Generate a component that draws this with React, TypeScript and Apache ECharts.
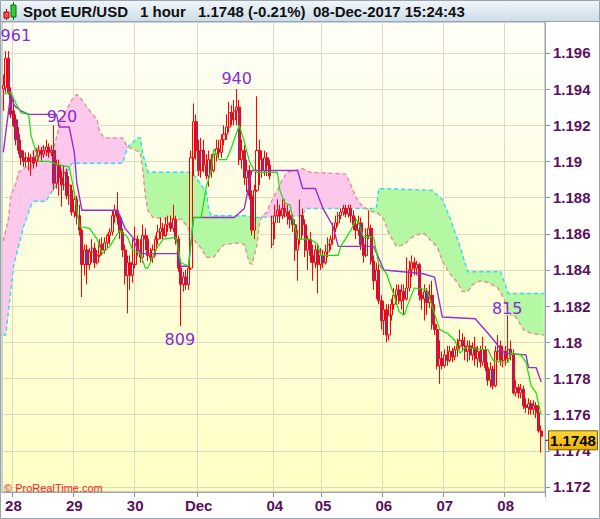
import React, { useEffect, useRef } from 'react';
import * as echarts from 'echarts';

// ---------- data ----------
const CATEGORY_COUNT = 214;
const dayLabels = ['28', '29', '30', 'Dec', '04', '05', '06', '07', '08'];
const dayStartIdx = [4, 28, 52, 77, 107, 126, 150, 174, 198];
const priceTicks = [1.172, 1.174, 1.176, 1.178, 1.18, 1.182, 1.184, 1.186, 1.188, 1.19, 1.192, 1.194, 1.196];
const priceMin = 1.17172;
const priceMax = 1.19771;

// hourly candles: [open, close, low, high]
const candles: number[][] = [
  [1.1940, 1.1942, 1.1928, 1.1948], [1.1941, 1.1957, 1.1938, 1.1961], [1.1957, 1.1938, 1.1937, 1.1961], [1.1938, 1.1926, 1.1924, 1.1941],
  [1.1928, 1.1920, 1.1919, 1.1934], [1.1923, 1.1912, 1.1909, 1.1926], [1.1915, 1.1906, 1.1904, 1.1919], [1.1906, 1.1902, 1.1898, 1.1912],
  [1.1902, 1.1900, 1.1897, 1.1906], [1.1900, 1.1902, 1.1897, 1.1905], [1.1902, 1.1900, 1.1895, 1.1905], [1.1900, 1.1902, 1.1892, 1.1904],
  [1.1902, 1.1899, 1.1896, 1.1906], [1.1900, 1.1903, 1.1897, 1.1907], [1.1903, 1.1906, 1.1901, 1.1909], [1.1906, 1.1904, 1.1900, 1.1908],
  [1.1904, 1.1906, 1.1902, 1.1909], [1.1906, 1.1908, 1.1903, 1.1912], [1.1908, 1.1905, 1.1902, 1.1910], [1.1905, 1.1906, 1.1903, 1.1909],
  [1.1906, 1.1888, 1.1884, 1.1920], [1.1888, 1.1898, 1.1885, 1.1901], [1.1898, 1.1891, 1.1881, 1.1901], [1.1891, 1.1887, 1.1875, 1.1895],
  [1.1887, 1.1894, 1.1884, 1.1898], [1.1894, 1.1881, 1.1879, 1.1896], [1.1881, 1.1887, 1.1876, 1.1892], [1.1884, 1.1872, 1.1870, 1.1887],
  [1.1872, 1.1879, 1.1869, 1.1881], [1.1879, 1.1870, 1.1865, 1.1881], [1.1870, 1.1862, 1.1859, 1.1876], [1.1862, 1.1843, 1.1825, 1.1863],
  [1.1843, 1.1851, 1.1837, 1.1854], [1.1851, 1.1843, 1.1832, 1.1854], [1.1843, 1.1850, 1.1840, 1.1852], [1.1850, 1.1852, 1.1844, 1.1857],
  [1.1852, 1.1844, 1.1841, 1.1855], [1.1844, 1.1848, 1.1843, 1.1851], [1.1848, 1.1854, 1.1847, 1.1857], [1.1854, 1.1851, 1.1848, 1.1858],
  [1.1851, 1.1855, 1.1849, 1.1858], [1.1855, 1.1859, 1.1852, 1.1860], [1.1859, 1.1861, 1.1854, 1.1863], [1.1861, 1.1870, 1.1859, 1.1873],
  [1.1870, 1.1873, 1.1866, 1.1876], [1.1873, 1.1869, 1.1865, 1.1883], [1.1869, 1.1861, 1.1857, 1.1870], [1.1861, 1.1851, 1.1847, 1.1863],
  [1.1851, 1.1837, 1.1832, 1.1854], [1.1837, 1.1844, 1.1816, 1.1848], [1.1844, 1.1837, 1.1829, 1.1848], [1.1837, 1.1843, 1.1833, 1.1857],
  [1.1843, 1.1857, 1.1841, 1.1864], [1.1857, 1.1851, 1.1848, 1.1859], [1.1851, 1.1847, 1.1844, 1.1857], [1.1847, 1.1859, 1.1844, 1.1865],
  [1.1859, 1.1857, 1.1851, 1.1863], [1.1857, 1.1848, 1.1845, 1.1859], [1.1848, 1.1847, 1.1844, 1.1852], [1.1847, 1.1851, 1.1844, 1.1854],
  [1.1851, 1.1857, 1.1848, 1.1859], [1.1857, 1.1861, 1.1854, 1.1865], [1.1861, 1.1863, 1.1857, 1.1869], [1.1863, 1.1859, 1.1857, 1.1866],
  [1.1859, 1.1865, 1.1858, 1.1869], [1.1865, 1.1866, 1.1861, 1.1870], [1.1866, 1.1863, 1.1861, 1.1870], [1.1863, 1.1868, 1.1861, 1.1876],
  [1.1868, 1.1857, 1.1854, 1.1870], [1.1857, 1.1841, 1.1839, 1.1859], [1.1841, 1.1832, 1.1809, 1.1844], [1.1832, 1.1836, 1.1828, 1.1839],
  [1.1836, 1.1832, 1.1829, 1.1840], [1.1832, 1.1841, 1.1829, 1.1844], [1.1841, 1.1902, 1.1840, 1.1906], [1.1902, 1.1922, 1.1892, 1.1932],
  [1.1922, 1.1906, 1.1901, 1.1926], [1.1906, 1.1895, 1.1892, 1.1912], [1.1895, 1.1906, 1.1891, 1.1913], [1.1906, 1.1898, 1.1894, 1.1912],
  [1.1898, 1.1892, 1.1890, 1.1904], [1.1892, 1.1901, 1.1886, 1.1906], [1.1901, 1.1895, 1.1891, 1.1904], [1.1895, 1.1904, 1.1894, 1.1906],
  [1.1904, 1.1907, 1.1900, 1.1912], [1.1907, 1.1905, 1.1902, 1.1912], [1.1905, 1.1912, 1.1902, 1.1915], [1.1912, 1.1915, 1.1909, 1.1920],
  [1.1915, 1.1919, 1.1912, 1.1926], [1.1919, 1.1927, 1.1916, 1.1933], [1.1927, 1.1923, 1.1920, 1.1931], [1.1923, 1.1928, 1.1920, 1.1934],
  [1.1928, 1.1930, 1.1920, 1.1940], [1.1930, 1.1901, 1.1898, 1.1934], [1.1901, 1.1906, 1.1896, 1.1912], [1.1906, 1.1891, 1.1887, 1.1909],
  [1.1891, 1.1895, 1.1883, 1.1901], [1.1895, 1.1881, 1.1879, 1.1898], [1.1881, 1.1862, 1.1859, 1.1884], [1.1862, 1.1884, 1.1857, 1.1887],
  [1.1884, 1.1906, 1.1883, 1.1936], [1.1906, 1.1901, 1.1887, 1.1912], [1.1901, 1.1895, 1.1891, 1.1906], [1.1895, 1.1902, 1.1892, 1.1906],
  [1.1902, 1.1898, 1.1892, 1.1905], [1.1898, 1.1892, 1.1890, 1.1901], [1.1854, 1.1866, 1.1852, 1.1870], [1.1866, 1.1870, 1.1857, 1.1876],
  [1.1870, 1.1873, 1.1866, 1.1879], [1.1873, 1.1870, 1.1866, 1.1876], [1.1870, 1.1874, 1.1868, 1.1879], [1.1874, 1.1872, 1.1869, 1.1879],
  [1.1872, 1.1870, 1.1865, 1.1876], [1.1870, 1.1868, 1.1863, 1.1873], [1.1868, 1.1865, 1.1861, 1.1871], [1.1865, 1.1851, 1.1845, 1.1868],
  [1.1851, 1.1857, 1.1834, 1.1862], [1.1857, 1.1870, 1.1854, 1.1879], [1.1870, 1.1865, 1.1859, 1.1874], [1.1865, 1.1851, 1.1847, 1.1868],
  [1.1851, 1.1857, 1.1840, 1.1859], [1.1857, 1.1848, 1.1844, 1.1861], [1.1848, 1.1844, 1.1834, 1.1854], [1.1844, 1.1851, 1.1841, 1.1854],
  [1.1851, 1.1843, 1.1827, 1.1854], [1.1843, 1.1848, 1.1840, 1.1852], [1.1848, 1.1844, 1.1841, 1.1851], [1.1844, 1.1850, 1.1843, 1.1854],
  [1.1850, 1.1854, 1.1847, 1.1858], [1.1854, 1.1857, 1.1851, 1.1859], [1.1857, 1.1863, 1.1854, 1.1866], [1.1863, 1.1866, 1.1861, 1.1870],
  [1.1866, 1.1870, 1.1864, 1.1872], [1.1870, 1.1872, 1.1868, 1.1874], [1.1872, 1.1874, 1.1870, 1.1876], [1.1874, 1.1871, 1.1869, 1.1876],
  [1.1871, 1.1874, 1.1869, 1.1876], [1.1874, 1.1870, 1.1866, 1.1876], [1.1870, 1.1865, 1.1862, 1.1873], [1.1865, 1.1862, 1.1857, 1.1869],
  [1.1862, 1.1866, 1.1859, 1.1870], [1.1866, 1.1854, 1.1851, 1.1869], [1.1854, 1.1848, 1.1844, 1.1858], [1.1848, 1.1859, 1.1847, 1.1863],
  [1.1859, 1.1863, 1.1857, 1.1873], [1.1863, 1.1845, 1.1843, 1.1865], [1.1845, 1.1834, 1.1829, 1.1848], [1.1834, 1.1840, 1.1824, 1.1844],
  [1.1840, 1.1823, 1.1821, 1.1843], [1.1823, 1.1812, 1.1807, 1.1826], [1.1812, 1.1818, 1.1804, 1.1823], [1.1818, 1.1804, 1.1800, 1.1821],
  [1.1804, 1.1815, 1.1801, 1.1821], [1.1815, 1.1821, 1.1812, 1.1824], [1.1821, 1.1826, 1.1818, 1.1830], [1.1826, 1.1829, 1.1821, 1.1832],
  [1.1829, 1.1823, 1.1821, 1.1832], [1.1823, 1.1828, 1.1818, 1.1832], [1.1828, 1.1824, 1.1815, 1.1832], [1.1824, 1.1830, 1.1823, 1.1847],
  [1.1830, 1.1840, 1.1828, 1.1845], [1.1840, 1.1844, 1.1836, 1.1848], [1.1844, 1.1841, 1.1837, 1.1847], [1.1841, 1.1843, 1.1837, 1.1845],
  [1.1843, 1.1826, 1.1823, 1.1844], [1.1826, 1.1824, 1.1818, 1.1830], [1.1824, 1.1828, 1.1812, 1.1832], [1.1828, 1.1822, 1.1815, 1.1830],
  [1.1822, 1.1826, 1.1819, 1.1832], [1.1826, 1.1810, 1.1807, 1.1834], [1.1810, 1.1807, 1.1804, 1.1821], [1.1807, 1.1787, 1.1785, 1.1810],
  [1.1787, 1.1791, 1.1777, 1.1801], [1.1791, 1.1787, 1.1785, 1.1795], [1.1787, 1.1793, 1.1786, 1.1796], [1.1793, 1.1790, 1.1787, 1.1798],
  [1.1790, 1.1795, 1.1789, 1.1798], [1.1795, 1.1792, 1.1789, 1.1797], [1.1792, 1.1796, 1.1790, 1.1798], [1.1796, 1.1798, 1.1792, 1.1802],
  [1.1798, 1.1801, 1.1796, 1.1807], [1.1801, 1.1798, 1.1795, 1.1805], [1.1798, 1.1795, 1.1790, 1.1803], [1.1795, 1.1798, 1.1789, 1.1801],
  [1.1798, 1.1793, 1.1790, 1.1801], [1.1793, 1.1797, 1.1790, 1.1800], [1.1797, 1.1791, 1.1787, 1.1803], [1.1791, 1.1795, 1.1786, 1.1798],
  [1.1795, 1.1789, 1.1786, 1.1798], [1.1789, 1.1796, 1.1787, 1.1803], [1.1796, 1.1786, 1.1784, 1.1798], [1.1786, 1.1779, 1.1776, 1.1789],
  [1.1779, 1.1785, 1.1775, 1.1789], [1.1785, 1.1776, 1.1774, 1.1787], [1.1776, 1.1795, 1.1775, 1.1798], [1.1795, 1.1798, 1.1790, 1.1804],
  [1.1798, 1.1790, 1.1787, 1.1801], [1.1790, 1.1795, 1.1786, 1.1798], [1.1795, 1.1791, 1.1787, 1.1798], [1.1791, 1.1796, 1.1789, 1.1815],
  [1.1796, 1.1793, 1.1790, 1.1801], [1.1793, 1.1772, 1.1771, 1.1796], [1.1772, 1.1775, 1.1770, 1.1779], [1.1775, 1.1772, 1.1769, 1.1777],
  [1.1772, 1.1774, 1.1769, 1.1777], [1.1774, 1.1765, 1.1763, 1.1776], [1.1765, 1.1764, 1.1761, 1.1769], [1.1764, 1.1766, 1.1760, 1.1769],
  [1.1766, 1.1763, 1.1760, 1.1768], [1.1763, 1.1765, 1.1760, 1.1768], [1.1765, 1.1761, 1.1758, 1.1767], [1.1761, 1.1751, 1.1750, 1.1765],
  [1.1751, 1.1748, 1.1739, 1.1754],
];

// Ichimoku lines as [barIndex, price] break points
const tenkan: number[][] = [
  [0, 1.1937], [2, 1.1938], [3, 1.1938], [5, 1.1932], [7, 1.1927], [10, 1.1926], [11, 1.1914], [13, 1.1905], [14, 1.1900],
  [18, 1.1900], [22, 1.1898], [26, 1.1897], [28, 1.1883], [30, 1.1864], [34, 1.1863], [37, 1.1857], [39, 1.1849], [42, 1.1853],
  [45, 1.1860], [46, 1.1862], [49, 1.1858], [51, 1.1851], [54, 1.1849], [56, 1.1841], [57, 1.1841], [60, 1.1851], [63, 1.1857],
  [68, 1.1858], [70, 1.1844], [73, 1.1842], [75, 1.1869], [78, 1.1869], [80, 1.1886], [82, 1.1895], [83, 1.1907], [85, 1.1901],
  [88, 1.1901], [90, 1.1908], [92, 1.1916], [93, 1.1920], [95, 1.1911], [97, 1.1900], [99, 1.1895], [100, 1.1894], [108, 1.1894],
  [109, 1.1884], [111, 1.1877], [113, 1.1876], [115, 1.1863], [116, 1.1857], [121, 1.1857], [124, 1.1854], [125, 1.1848],
  [132, 1.1848], [133, 1.1853], [137, 1.1862], [139, 1.1868], [140, 1.1866], [142, 1.1858], [146, 1.1858], [148, 1.1843],
  [151, 1.1838], [154, 1.1826], [156, 1.1817], [158, 1.1815], [160, 1.1823], [162, 1.1830], [167, 1.1829], [169, 1.1820],
  [172, 1.1807], [175, 1.1805], [178, 1.1801], [180, 1.1794], [182, 1.1797], [189, 1.1796], [191, 1.1796], [193, 1.1790],
  [196, 1.1789], [199, 1.1789], [200, 1.1794], [204, 1.1793], [206, 1.1789], [208, 1.1776], [210, 1.1772], [212, 1.1760],
];
const kijun: number[][] = [
  [0, 1.1905], [3, 1.1938], [4, 1.1932], [5, 1.1930], [7, 1.1928], [10, 1.1926], [21, 1.1926], [22, 1.1919], [26, 1.1919],
  [28, 1.1905], [29, 1.1888], [31, 1.1873], [45, 1.1873], [46, 1.1870], [48, 1.1863], [51, 1.1858], [53, 1.1851], [55, 1.1849],
  [69, 1.1849], [70, 1.1842], [73, 1.1842], [75, 1.1869], [91, 1.1869], [95, 1.1874], [98, 1.1895], [116, 1.1895], [118, 1.1885],
  [123, 1.1885], [126, 1.1874], [130, 1.1864], [132, 1.1853], [146, 1.1853], [150, 1.1840], [165, 1.1838], [170, 1.1836],
  [173, 1.1814], [186, 1.1813], [191, 1.1805], [194, 1.1800], [197, 1.1794], [206, 1.1793], [207, 1.1786], [210, 1.1786],
  [212, 1.1778],
];
const senkouA: number[][] = [
  [0, 1.1804], [1, 1.1804], [4, 1.1842], [8, 1.1864], [11, 1.1876], [12, 1.1878], [17, 1.1878], [18, 1.1881], [21, 1.1887],
  [23, 1.1891], [26, 1.1896], [27, 1.1899], [47, 1.1899], [49, 1.1908], [53, 1.1913], [54, 1.1913], [55, 1.1904], [57, 1.1894],
  [74, 1.1894], [76, 1.1891], [78, 1.1887], [80, 1.1883], [81, 1.1873], [82, 1.1870], [95, 1.1870], [100, 1.1869], [118, 1.1870],
  [119, 1.1874], [147, 1.1874], [148, 1.1885], [169, 1.1884], [173, 1.1879], [176, 1.1869], [180, 1.1853], [183, 1.1839],
  [196, 1.1839], [199, 1.1827], [213, 1.1827],
];
const senkouB: number[][] = [
  [0, 1.1856], [2, 1.1868], [3, 1.1881], [5, 1.1888], [6, 1.1894], [9, 1.1897], [11, 1.1897], [12, 1.1907], [16, 1.1908],
  [18, 1.1906], [20, 1.1908], [22, 1.1919], [24, 1.1926], [27, 1.1934], [29, 1.1937], [31, 1.1934], [33, 1.1930], [37, 1.1923],
  [38, 1.1916], [40, 1.1913], [47, 1.1913], [49, 1.1908], [51, 1.1907], [54, 1.1905], [55, 1.1895], [56, 1.1881], [57, 1.1873],
  [59, 1.1869], [70, 1.1868], [72, 1.1865], [74, 1.1860], [76, 1.1855], [78, 1.1852], [80, 1.1847], [83, 1.1847], [85, 1.1851],
  [87, 1.1854], [93, 1.1855], [95, 1.1854], [97, 1.1844], [98, 1.1843], [100, 1.1854], [101, 1.1866], [102, 1.1870],
  [104, 1.1872], [105, 1.1876], [108, 1.1884], [110, 1.1890], [112, 1.1894], [118, 1.1896], [121, 1.1894], [135, 1.1893],
  [137, 1.1887], [139, 1.1880], [141, 1.1876], [144, 1.1873], [148, 1.1871], [150, 1.1868], [152, 1.1860], [155, 1.1853],
  [158, 1.1854], [161, 1.1858], [164, 1.1860], [166, 1.1860], [168, 1.1857], [171, 1.1853], [173, 1.1845], [176, 1.1838],
  [179, 1.1833], [181, 1.1828], [183, 1.1828], [185, 1.1832], [188, 1.1834], [191, 1.1833], [195, 1.1830], [197, 1.1825],
  [200, 1.1815], [202, 1.1814], [205, 1.1807], [208, 1.1805], [213, 1.1804],
];

const extremeIdx = [1, 20, 92, 70, 199];
const extremePrice = [1.1961, 1.1920, 1.1940, 1.1809, 1.1815];
const extremeText = ['961', '920', '940', '809', '815'];
const lastPrice = 1.1748;
const headerTexts = ['Spot EUR/USD', '1 hour', '1.1748 (-0.21%)', '08-Dec-2017 15:24:43'];
const copyrightText = '\u00A9 ProRealTime.com';

// ---------- styling ----------
const AXIS_COLOR = '#5a1060';
const GRID_COLOR = '#dcdcc6';
const FRAME_COLOR = '#9aa6ae';
const PINK = '#fcc8ec';
const GREEN = '#b4f8a4';
const FONT = '"Liberation Sans", Arial, sans-serif';
const extremeOffsets = [[10, -16], [8, -9], [0, -11], [-1, 14], [-1, -7]];
const headerX = [23, 140, 198, 313];

function valueAt(pts: number[][], x: number): number {
  if (x <= pts[0][0]) return pts[0][1];
  for (let k = 0; k < pts.length - 1; k++) {
    const [x0, y0] = pts[k];
    const [x1, y1] = pts[k + 1];
    if (x >= x0 && x <= x1) return x1 === x0 ? y1 : y0 + ((y1 - y0) * (x - x0)) / (x1 - x0);
  }
  return pts[pts.length - 1][1];
}

function buildOption() {
  const categories = Array.from({ length: CATEGORY_COUNT }, (_, i) => String(i));
  const dayMap = new Map<number, string>();
  dayStartIdx.forEach((idx, k) => dayMap.set(idx, dayLabels[k]));
  const isDay = (index: number) => dayMap.has(index);

  const cloudXs = Array.from(new Set([...senkouA.map((p) => p[0]), ...senkouB.map((p) => p[0])])).sort((a, b) => a - b);

  const renderCloud = (_params: any, api: any) => {
    const o0 = api.coord([0, priceMin]);
    const o1 = api.coord([1, priceMin]);
    const step = o1[0] - o0[0];
    const px = (x: number) => o0[0] + x * step;
    const py = (v: number) => api.coord([0, v])[1];
    const polys: { pink: boolean; pts: number[][] }[] = [];
    let curA: number[][] = [];
    let curB: number[][] = [];
    let curPink: boolean | null = null;
    let prev: { x: number; a: number; d: number } | null = null;
    const flush = () => {
      if (curA.length > 1 && curPink !== null) polys.push({ pink: curPink, pts: [...curA, ...curB.slice().reverse()] });
    };
    for (const x of cloudXs) {
      const a = valueAt(senkouA, x);
      const b = valueAt(senkouB, x);
      const d = b - a;
      const sign = d > 0 ? true : d < 0 ? false : curPink;
      if (prev && curPink !== null && sign !== null && sign !== curPink) {
        const t = prev.d / (prev.d - d);
        const xc = prev.x + t * (x - prev.x);
        const vc = prev.a + t * (a - prev.a);
        curA.push([xc, vc]);
        curB.push([xc, vc]);
        flush();
        curA = [[xc, vc]];
        curB = [[xc, vc]];
      }
      if (sign !== null) curPink = sign;
      curA.push([x, a]);
      curB.push([x, b]);
      prev = { x, a, d };
    }
    flush();
    return {
      type: 'group',
      children: polys.map((p) => ({
        type: 'polygon',
        shape: { points: p.pts.map(([x, v]) => [px(x), py(v)]) },
        style: { fill: p.pink ? PINK : GREEN, stroke: p.pink ? PINK : GREEN, lineWidth: 0.6 },
        silent: true,
      })),
    };
  };

  return {
    animation: false,
    backgroundColor: '#ffffff',
    grid: {
      left: 2,
      right: 55,
      top: 22,
      bottom: 27,
      containLabel: false,
      outerBoundsMode: 'none',
      show: true,
      backgroundColor: new echarts.graphic.LinearGradient(0, 0, 0, 1, [
        { offset: 0, color: '#fefef6' },
        { offset: 1, color: '#ffffc4' },
      ]),
      borderColor: FRAME_COLOR,
      borderWidth: 1,
    },
    xAxis: {
      type: 'category',
      data: categories,
      boundaryGap: true,
      axisLine: { show: true, lineStyle: { color: FRAME_COLOR } },
      axisTick: { show: true, interval: (i: number) => isDay(i), length: 5, lineStyle: { color: '#8a949c' } },
      axisLabel: {
        interval: (i: number) => isDay(i),
        formatter: (_v: string, i: number) => dayMap.get(i) || '',
        color: AXIS_COLOR,
        fontWeight: 'bold',
        fontSize: 15,
        fontFamily: FONT,
        margin: 6,
      },
      splitLine: { show: true, interval: (i: number) => isDay(i), lineStyle: { color: GRID_COLOR, width: 1 } },
    },
    yAxis: {
      type: 'value',
      position: 'right',
      min: priceMin,
      max: priceMax,
      scale: true,
      axisLine: { show: true, lineStyle: { color: FRAME_COLOR } },
      axisTick: { show: true, customValues: priceTicks, length: 5, lineStyle: { color: '#8a949c' } },
      axisLabel: {
        customValues: priceTicks,
        formatter: (v: number) => String(parseFloat(Number(v).toFixed(3))),
        color: AXIS_COLOR,
        fontWeight: 'bold',
        fontSize: 15,
        fontFamily: FONT,
        margin: 8,
      },
      splitLine: { show: true, lineStyle: { color: GRID_COLOR, width: 1 } },
    },
    series: [
      {
        name: 'cloud',
        type: 'custom',
        data: [[0, priceMin]],
        renderItem: renderCloud,
        z: 1,
        silent: true,
      },
      {
        name: 'Senkou A',
        type: 'line',
        data: senkouA,
        symbol: 'none',
        z: 2,
        lineStyle: { color: '#30dcf0', width: 1.4, type: [4, 3] },
      },
      {
        name: 'Senkou B',
        type: 'line',
        data: senkouB,
        symbol: 'none',
        z: 2,
        lineStyle: { color: '#f08c8c', width: 1.4, type: [4, 3] },
      },
      {
        name: 'EUR/USD',
        type: 'candlestick',
        data: candles,
        barWidth: 2.6,
        z: 3,
        itemStyle: {
          color: 'rgba(255,255,255,0)',
          color0: '#6c35b5',
          borderColor: '#ff0000',
          borderColor0: '#ff0000',
          borderWidth: 1,
        },
        markPoint: {
          symbol: 'circle',
          symbolSize: 0,
          silent: true,
          label: {
            show: true,
            position: 'inside',
            color: '#8a2ad0',
            fontSize: 16,
            fontFamily: '"DejaVu Sans", sans-serif',
            formatter: (p: any) => p.name,
          },
          data: extremeIdx.map((idx, k) => ({
            name: extremeText[k],
            coord: [idx, extremePrice[k]],
            label: { offset: extremeOffsets[k] },
          })),
        },
      },
      {
        name: 'Kijun',
        type: 'line',
        data: kijun,
        symbol: 'none',
        z: 4,
        lineStyle: { color: '#9a2ed0', width: 1.4 },
      },
      {
        name: 'Tenkan',
        type: 'line',
        data: tenkan,
        symbol: 'none',
        z: 5,
        lineStyle: { color: '#10e010', width: 1.2 },
      },
    ],
    graphic: [
      {
        id: 'headerBg',
        type: 'rect',
        z: 100,
        shape: { x: 0, y: 0, width: 600, height: 21 },
        style: {
          fill: new echarts.graphic.LinearGradient(0, 0, 0, 1, [
            { offset: 0, color: '#f2f7fb' },
            { offset: 1, color: '#cddde8' },
          ]),
        },
      },
      { id: 'headerLine', type: 'line', z: 101, shape: { x1: 0, y1: 21.5, x2: 600, y2: 21.5 }, style: { stroke: FRAME_COLOR, lineWidth: 1 } },
      { id: 'frame', type: 'rect', z: 101, shape: { x: 0.5, y: 0.5, width: 599, height: 518 }, style: { fill: 'none', stroke: FRAME_COLOR, lineWidth: 1 } },
      { id: 'icon1w', type: 'line', z: 102, shape: { x1: 6.5, y1: 9, x2: 6.5, y2: 20 }, style: { stroke: '#c00000', lineWidth: 1 } },
      { id: 'icon1b', type: 'rect', z: 103, shape: { x: 4, y: 12, width: 5, height: 6 }, style: { fill: '#ff5050', stroke: '#b00000', lineWidth: 1 } },
      { id: 'icon2w', type: 'line', z: 102, shape: { x1: 13.5, y1: 2, x2: 13.5, y2: 20 }, style: { stroke: '#107010', lineWidth: 1 } },
      { id: 'icon2b', type: 'rect', z: 103, shape: { x: 11, y: 5, width: 5, height: 12 }, style: { fill: '#30d030', stroke: '#106010', lineWidth: 1 } },
      ...headerTexts.map((t, k) => ({
        id: 'header' + k,
        type: 'text',
        z: 104,
        x: headerX[k],
        y: 11,
        style: {
          text: t,
          font: `bold 15px ${FONT}`,
          fill: '#111111',
          textAlign: 'left',
          textVerticalAlign: 'middle',
          align: 'left',
          verticalAlign: 'middle',
        },
      })),
      {
        id: 'copyright',
        type: 'text',
        z: 104,
        x: 4,
        y: 488,
        style: {
          text: copyrightText,
          font: `11px ${FONT}`,
          fill: '#ff2020',
          textAlign: 'left',
          textVerticalAlign: 'middle',
          align: 'left',
          verticalAlign: 'middle',
        },
      },
    ],
  };
}

export default function App() {
  const ref = useRef<HTMLDivElement>(null);
  useEffect(() => {
    if (!ref.current) return;
    const chart = echarts.init(ref.current, undefined, { renderer: 'svg' });
    chart.setOption(buildOption() as any);
    // current-price box placed through the y axis scale
    const py = chart.convertToPixel({ yAxisIndex: 0 }, lastPrice) as number;
    const boxY = py + 4;
    chart.setOption({
      graphic: [
        { id: 'priceTick', type: 'line', z: 110, shape: { x1: 545, y1: boxY, x2: 549, y2: boxY }, style: { stroke: '#333', lineWidth: 1 } },
        {
          id: 'priceBox',
          type: 'rect',
          z: 110,
          shape: { x: 548.5, y: boxY - 9.5, width: 49, height: 19 },
          style: {
            fill: new echarts.graphic.LinearGradient(0, 0, 0, 1, [
              { offset: 0, color: '#ffd838' },
              { offset: 1, color: '#eeb000' },
            ]),
            stroke: '#7a5c00',
            lineWidth: 1,
          },
        },
        {
          id: 'priceText',
          type: 'text',
          z: 111,
          x: 573,
          y: boxY + 0.5,
          style: {
            text: String(lastPrice),
            font: `bold 15px ${FONT}`,
            fill: '#000000',
            textAlign: 'center',
            textVerticalAlign: 'middle',
            align: 'center',
            verticalAlign: 'middle',
          },
        },
      ],
    } as any);
    return () => chart.dispose();
  }, []);
  return (
    <div
      ref={ref}
      style={{ position: 'fixed', left: 0, top: 0, width: 600, height: 519, background: '#ffffff' }}
    />
  );
}
